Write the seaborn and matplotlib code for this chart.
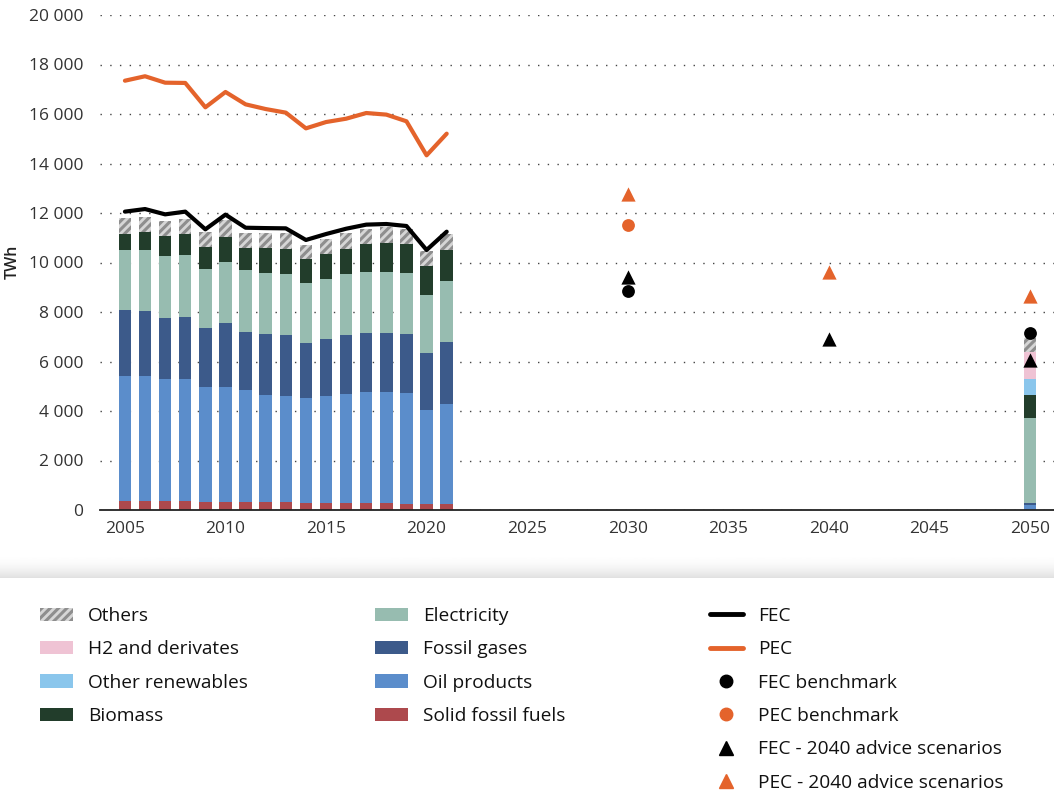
import matplotlib
matplotlib.use("Agg")
import matplotlib.pyplot as plt
import seaborn as sns
import numpy as np
import pandas as pd
from matplotlib.patches import Patch
from matplotlib.lines import Line2D
from matplotlib.ticker import FuncFormatter

# ------------------------------------------------------------------
# données (TWh)
years = [2005, 2006, 2007, 2008, 2009, 2010, 2011, 2012, 2013,
         2014, 2015, 2016, 2017, 2018, 2019, 2020, 2021, 2050]

solid_fossil = [360, 375, 365, 365, 335, 335, 335, 325, 325,
                295, 295, 295, 295, 285, 255, 255, 255, 0]
oil_products = [5040, 5055, 4930, 4915, 4650, 4620, 4515, 4335, 4295,
                4245, 4325, 4390, 4460, 4470, 4470, 3785, 4030, 220]
fossil_gases = [2665, 2595, 2475, 2520, 2355, 2585, 2355, 2440, 2465,
                2210, 2275, 2370, 2385, 2385, 2375, 2290, 2505, 70]
electricity = [2425, 2480, 2495, 2505, 2395, 2495, 2480, 2475, 2465,
               2410, 2440, 2480, 2490, 2490, 2460, 2370, 2475, 3415]
biomass = [675, 740, 805, 860, 890, 980, 915, 995, 1010,
           970, 1020, 1025, 1105, 1160, 1175, 1170, 1240, 940]
other_renewables = [0, 0, 0, 0, 0, 0, 0, 0, 0,
                    0, 0, 0, 0, 0, 0, 0, 0, 650]
h2_derivates = [0, 0, 0, 0, 0, 0, 0, 0, 0,
                0, 0, 0, 0, 0, 0, 0, 0, 1100]
others = [635, 605, 595, 595, 595, 700, 605, 635, 630,
          565, 580, 620, 630, 630, 620, 595, 645, 540]

hist_years = [2005, 2006, 2007, 2008, 2009, 2010, 2011, 2012, 2013,
              2014, 2015, 2016, 2017, 2018, 2019, 2020, 2021]
fec = [12055, 12160, 11945, 12055, 11340, 11935, 11405, 11390, 11380,
       10910, 11150, 11365, 11530, 11555, 11475, 10505, 11245]
pec = [17345, 17525, 17265, 17255, 16270, 16890, 16390, 16200, 16055,
       15420, 15675, 15810, 16040, 15975, 15705, 14330, 15205]

fec_bench_years = [2030, 2050]
fec_bench = [8855, 7145]
pec_bench_years = [2030]
pec_bench = [11515]
advice_years = [2030, 2040, 2050]
fec_advice = [9415, 6905, 6050]
pec_advice = [12750, 9620, 8640]

# ordre du haut vers le bas de la pile
stack = [
    ("Others", others, "#d6d6d6"),
    ("H2 and derivates", h2_derivates, "#efc3d4"),
    ("Other renewables", other_renewables, "#8ac6ec"),
    ("Biomass", biomass, "#223d2b"),
    ("Electricity", electricity, "#97bcb0"),
    ("Fossil gases", fossil_gases, "#3c5a8a"),
    ("Oil products", oil_products, "#5b8dcb"),
    ("Solid fossil fuels", solid_fossil, "#ad494d"),
]
ORANGE = "#e4632b"

# ------------------------------------------------------------------
sns.set_theme(style="white")
plt.rcParams["font.family"] = ["Open Sans", "DejaVu Sans"]
plt.rcParams["hatch.linewidth"] = 2.2

fig = plt.figure(figsize=(10.54, 7.94), dpi=100)
W, H = 1054, 794
ax = fig.add_axes([100 / W, (H - 510) / H, (W - 100) / W, 495 / H])

df = pd.DataFrame({name: vals for name, vals, _ in stack})
df["year"] = years
# cumul depuis le bas -> on dessine du total vers le bas
names = [s[0] for s in stack]
cum = df[names[::-1]].cumsum(axis=1)
cum["year"] = years

for name, _, color in stack:
    kw = {}
    if name == "Others":
        kw = dict(hatch="////", edgecolor="#8e8e8e")
    sns.barplot(data=cum, x="year", y=name, native_scale=True, color=color,
                saturation=1, width=0.62, linewidth=0, errorbar=None,
                ax=ax, zorder=2, **kw)

sns.lineplot(x=hist_years, y=pec, color=ORANGE, lw=3, ax=ax, zorder=3)
sns.lineplot(x=hist_years, y=fec, color="black", lw=3, ax=ax, zorder=3)

sns.scatterplot(x=fec_bench_years, y=fec_bench, marker="o", s=85,
                color="black", linewidth=0, ax=ax, zorder=4)
sns.scatterplot(x=pec_bench_years, y=pec_bench, marker="o", s=85,
                color=ORANGE, linewidth=0, ax=ax, zorder=4)
sns.scatterplot(x=advice_years, y=fec_advice, marker="^", s=105,
                color="black", linewidth=0, ax=ax, zorder=4)
sns.scatterplot(x=advice_years, y=pec_advice, marker="^", s=105,
                color=ORANGE, linewidth=0, ax=ax, zorder=4)

ax.set_xlim(2003.76, 2051.2)
ax.set_ylim(0, 20000)
ax.set_xticks(range(2005, 2051, 5))
ax.set_yticks(range(0, 20001, 2000))
ax.yaxis.set_major_formatter(FuncFormatter(lambda v, p: f"{int(v):,}".replace(",", " ")))
ax.tick_params(axis="both", length=0, labelsize=12.5, labelcolor="#333333")
ax.tick_params(axis="y", pad=12)
ax.tick_params(axis="x", pad=8)
ax.set_xlabel("")
ax.set_ylabel("")
fig.text(13 / W, (H - 262) / H, "TWh", rotation=90, ha="center", va="center",
         fontsize=11.5, fontweight="semibold", color="#222222")
ax.grid(axis="y", linestyle=(0, (1, 6)), color="#444444", lw=1.0)
ax.grid(axis="x", visible=False)
ax.set_axisbelow(True)
for side in ["top", "right", "left"]:
    ax.spines[side].set_visible(False)
ax.spines["bottom"].set_color("#222222")
ax.spines["bottom"].set_linewidth(1.3)
ax.spines["bottom"].set_zorder(5)

# bandeau ombré au-dessus de la légende
sh = fig.add_axes([0, (H - 578) / H, 1, 25 / H])
grad = (1.0 - 0.12 * np.linspace(0, 1, 60) ** 2).reshape(-1, 1)
sh.imshow(grad, aspect="auto", cmap="gray", vmin=0, vmax=1, extent=[0, 1, 1, 0])
sh.axis("off")

# ------------------------------------------------------------------
# légende en trois colonnes
def patch(name, color):
    if name == "Others":
        return Patch(facecolor=color, hatch="////", edgecolor="#8e8e8e", lw=0, label=name)
    return Patch(facecolor=color, lw=0, label=name)

col1 = [patch(n, c) for n, _, c in stack[:4]]
col2 = [patch(n, c) for n, _, c in stack[4:]]
col3 = [
    Line2D([], [], color="black", lw=3.5, label="FEC"),
    Line2D([], [], color=ORANGE, lw=3.5, label="PEC"),
    Line2D([], [], color="black", marker="o", ms=9, lw=0, label="FEC benchmark"),
    Line2D([], [], color=ORANGE, marker="o", ms=9, lw=0, label="PEC benchmark"),
    Line2D([], [], color="black", marker="^", ms=10, lw=0, label="FEC - 2040 advice scenarios"),
    Line2D([], [], color=ORANGE, marker="^", ms=10, lw=0, label="PEC - 2040 advice scenarios"),
]

leg_kw = dict(loc="upper left", frameon=False, fontsize=13.8, borderaxespad=0,
              borderpad=0, handlelength=1.72, handleheight=0.7,
              handletextpad=0.8, labelspacing=0.8, labelcolor="#111111")
for x0, hs in [(40, col1), (375, col2), (710, col3)]:
    fig.legend(handles=hs, bbox_to_anchor=(x0 / W, (H - 607) / H), **leg_kw)

fig.savefig("out.png", dpi=100)
plt.close(fig)
